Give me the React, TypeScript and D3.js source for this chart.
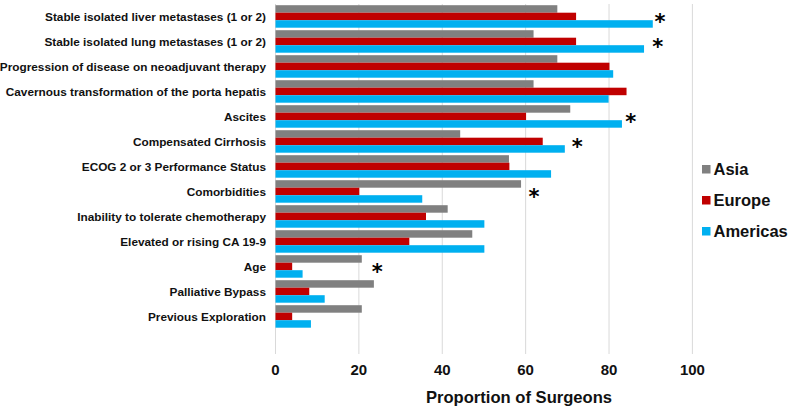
import React from "react";
import * as d3 from "d3";

const categories = [
  "Stable isolated liver metastases (1 or 2)",
  "Stable isolated lung metastases (1 or 2)",
  "Progression of disease on neoadjuvant therapy",
  "Cavernous transformation of the porta hepatis",
  "Ascites",
  "Compensated Cirrhosis",
  "ECOG 2 or 3 Performance Status",
  "Comorbidities",
  "Inability to tolerate chemotherapy",
  "Elevated or rising CA 19-9",
  "Age",
  "Palliative Bypass",
  "Previous Exploration",
];
const seriesNames = ["Asia", "Europe", "Americas"];
const asia = [67.6, 61.9, 67.6, 61.9, 70.7, 44.3, 56.0, 58.9, 41.3, 47.2, 20.7, 23.6, 20.7];
const europe = [72.1, 72.1, 80.1, 84.2, 60.1, 64.1, 56.1, 20.1, 36.1, 32.1, 4.0, 8.1, 4.0];
const americas = [90.5, 88.4, 81.0, 79.9, 83.1, 69.4, 66.1, 35.2, 50.1, 50.1, 6.5, 11.8, 8.5];
const starCategories = [0, 1, 4, 5, 7, 10];
const starValues = [92.2, 91.7, 85.2, 72.4, 62.0, 24.4];
const ticks = [0, 20, 40, 60, 80, 100];
const colors = ["#808080", "#C00000", "#00B0F0"];

export default function App() {
  const W = 793, H = 410;
  const x = d3.scaleLinear().domain([0, 100]).range([275.5, 692.4]);
  const bandDomain = [...categories, ""];
  const y = d3.scaleBand<string>().domain(bandDomain).range([4, 354]).paddingInner(0).paddingOuter(0);
  const step = y.step();
  const inner = d3.scaleBand<string>().domain(seriesNames).range([1.2, step - 1.3]);
  const series = [asia, europe, americas];
  const font = "'Liberation Sans', Arial, Helvetica, sans-serif";
  return (
    <svg width={W} height={H} style={{ position: "absolute", left: 0, top: 0, background: "#fff" }} fontFamily={font}>
      {ticks.map((t) => (
        <line key={"g" + t} x1={x(t)} x2={x(t)} y1={4} y2={354} stroke="#d9d9d9" strokeWidth={1} />
      ))}
      {categories.map((c, i) => (
        <g key={c} transform={`translate(0,${y(c)})`}>
          {series.map((s, j) => (
            <rect
              key={j}
              x={x(0)}
              y={inner(seriesNames[j])}
              width={x(s[i]) - x(0)}
              height={inner.bandwidth()}
              fill={colors[j]}
            />
          ))}
          <text x={266} y={step / 2} dy="0.35em" textAnchor="end" fontSize={11.8} fontWeight="bold" fill="#111">
            {c}
          </text>
        </g>
      ))}
      {starCategories.map((ci, k) => (
        <text
          key={"s" + k}
          x={x(starValues[k])}
          y={(y(categories[ci]) as number) + step / 2 + 12}
          textAnchor="middle"
          fontSize={21}
          fontWeight="bold"
          fontFamily="'DejaVu Sans', sans-serif"
          fill="#000"
        >
          *
        </text>
      ))}
      {ticks.map((t) => (
        <text key={"t" + t} x={x(t)} y={375} textAnchor="middle" fontSize={15} fontWeight="bold" fill="#111">
          {t}
        </text>
      ))}
      <text x={519} y={402.5} textAnchor="middle" fontSize={16.6} fontWeight="bold" fill="#111">
        Proportion of Surgeons
      </text>
      {seriesNames.map((n, j) => (
        <g key={n} transform={`translate(702,${165 + j * 31})`}>
          <rect x={0} y={0} width={8.5} height={8.5} fill={colors[j]} />
          <text x={11.5} y={4.25} dy="0.36em" fontSize={16.5} fontWeight="bold" fill="#111">
            {n}
          </text>
        </g>
      ))}
    </svg>
  );
}
